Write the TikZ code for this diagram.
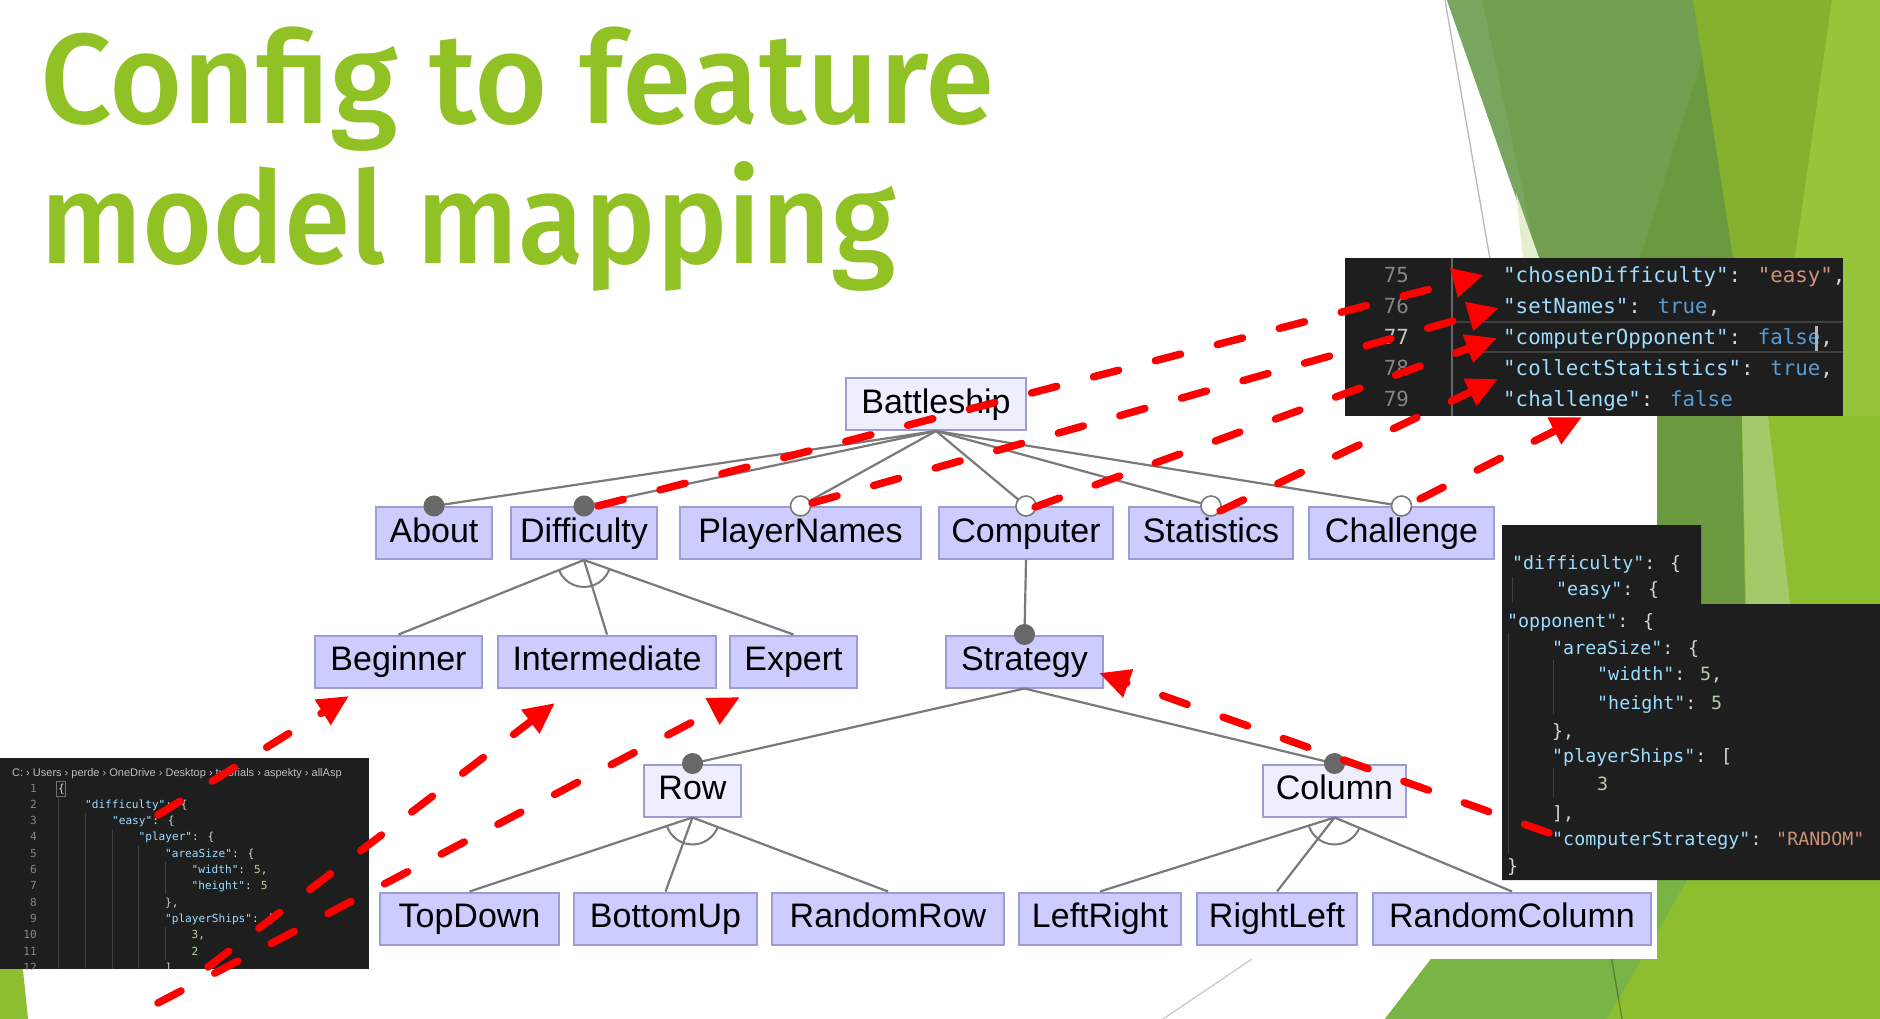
\documentclass[tikz,border=0pt]{standalone}
\usepackage{fontspec}
\usepackage{graphicx}
\usetikzlibrary{arrows.meta}
\newfontfamily\titlefont{Fira Sans}[UprightFont={* Medium}]
\newfontfamily\treefont{Liberation Sans}
\newfontfamily\codefont{DejaVu Sans Mono}
\newfontfamily\uifont{Liberation Sans}

\definecolor{titlegreen}{HTML}{90C226}
\definecolor{featfill}{HTML}{CCCCFF}
\definecolor{absfill}{HTML}{EEEEFF}
\definecolor{featedge}{HTML}{9C9CD6}
\definecolor{linkgray}{HTML}{7A7A7A}
\definecolor{dotgray}{HTML}{686868}
\definecolor{mapred}{HTML}{FF0000}
\definecolor{codebg}{HTML}{1E1E1E}
\definecolor{jkey}{HTML}{9CDCFE}
\definecolor{jstr}{HTML}{CE9178}
\definecolor{jbool}{HTML}{569CD6}
\definecolor{jnum}{HTML}{B5CEA8}
\definecolor{jpunct}{HTML}{D4D4D4}
\definecolor{lnum}{HTML}{858585}
\definecolor{lnumact}{HTML}{C6C6C6}
\definecolor{guide}{HTML}{404040}
\definecolor{gBright}{HTML}{8CBE2F}
\definecolor{gTop}{HTML}{84B22F}
\definecolor{gStrip}{HTML}{96C43B}
\definecolor{gDark}{HTML}{6A993F}
\definecolor{gOlive}{HTML}{729E50}
\definecolor{gOliveL}{HTML}{79A65E}
\definecolor{gPale}{HTML}{A3CA6A}
\definecolor{gPaler}{HTML}{E4EED0}
\definecolor{gMid}{HTML}{79B446}

\newcommand{\cfgkey}[1]{\textcolor{jkey}{"#1"}}
\newcommand{\cfgstr}[1]{\textcolor{jstr}{"#1"}}
\newcommand{\cfgbool}[1]{\textcolor{jbool}{#1}}
\newcommand{\cfgnum}[1]{\textcolor{jnum}{#1}}

\tikzset{
  feat/.style={draw=featedge, fill=featfill, line width=2pt, minimum height=52pt,
    inner sep=0pt, text height=25pt, text depth=7pt,
    font=\treefont\fontsize{34}{40}\selectfont},
  absfeat/.style={feat, fill=absfill},
  link/.style={draw=linkgray, line width=2.2pt},
  mand/.style={fill=dotgray, draw=dotgray, line width=1pt},
  opt/.style={fill=white, draw=linkgray, line width=1.6pt},
  altarc/.style={draw=linkgray, line width=2pt},
  codeA/.style={anchor=base west, inner sep=0pt, text=jpunct,
    font=\codefont\fontsize{20.8}{24}\selectfont},
  codeB/.style={anchor=base west, inner sep=0pt, text=jpunct,
    font=\codefont\fontsize{18.3}{22}\selectfont},
  codeC/.style={anchor=base west, inner sep=0pt, text=jpunct,
    font=\codefont\fontsize{11.1}{13}\selectfont},
  guideline/.style={draw=guide, line width=1pt},
  cfgarrow/.style={draw=mapred, line width=7.5pt, line cap=round,
    dash pattern=on 26pt off 38pt, -{Triangle[length=31pt,width=28pt]}},
  titletext/.style={anchor=base west, inner sep=0pt, text=titlegreen,
    font=\titlefont\fontsize{128}{150}\selectfont},
}

\begin{document}
\begin{tikzpicture}[x=1pt, y=-1pt]
\useasboundingbox (0,0) rectangle (1880,1019);
\fill[white] (0,0) rectangle (1880,1019);

% ---- slide background facets ----
\fill[gBright] (1693,0) -- (1880,0) -- (1880,1019) -- (1385,1019) -- (1431,959)
  -- (1520,600) -- (1540,258) -- cycle;
\fill[gTop] (1693,0) -- (1832,0) -- (1795,258) -- (1733,258) -- cycle;
\fill[gStrip] (1832,0) -- (1880,0) -- (1880,416) -- (1772,416) -- cycle;
\fill[gOlive] (1447,0) -- (1693,0) -- (1702,57) -- (1640,258) -- (1539,258) -- cycle;
\fill[gOliveL] (1447,0) -- (1482,0) -- (1537,258) -- cycle;
\fill[gPaler] (1516,193) -- (1539,258) -- (1523,258) -- cycle;
\fill[gDark] (1702,57) -- (1733,258) -- (1742,420) -- (1745,610) -- (1560,610)
  -- (1560,258) -- (1640,258) -- cycle;
\fill[gPale] (1742,416) -- (1768,416) -- (1790,604) -- (1746,604) -- cycle;
\fill[gMid] (1385,1019) -- (1607,1019) -- (1690,875) -- (1600,700) -- (1431,959) -- cycle;
\fill[gBright] (0,940) -- (20,940) -- (28,1019) -- (0,1019) -- cycle;

% thin guide lines of the slide design
\draw[black, opacity=0.28, line width=1.3pt] (1445,0) -- (1622,1019);
\draw[black, opacity=0.22, line width=1.2pt] (1252,959) -- (1163,1019);

% white panel behind the feature model
\fill[white] (300,300) rectangle (1657,959);

% ---- title ----
\node[titletext] (title1) at (40,123.5) {\scalebox{0.985}[1]{Config to feature}};
\node[titletext] (title2) at (40,264) {\scalebox{0.94}[1]{model mapping}};

% ---- feature model ----
\node[absfeat, minimum width=180pt] (battle) at (936,404) {Battleship};
\node[feat, minimum width=116pt] (about) at (434,533) {About};
\node[feat, minimum width=146pt] (diff) at (584,533) {Difficulty};
\node[feat, minimum width=241pt] (pnames) at (800.5,533) {PlayerNames};
\node[feat, minimum width=174pt] (comp) at (1026,533) {Computer};
\node[feat, minimum width=164pt] (stats) at (1211,533) {Statistics};
\node[feat, minimum width=185pt] (chall) at (1401.5,533) {Challenge};
\node[feat, minimum width=167pt] (begin) at (398.5,661.5) {Beginner};
\node[feat, minimum width=218pt] (inter) at (607,661.5) {Intermediate};
\node[feat, minimum width=127pt] (expert) at (793.5,661.5) {Expert};
\node[feat, minimum width=157pt] (strat) at (1024.5,661.5) {Strategy};
\node[absfeat, minimum width=97pt] (row) at (692.5,790.5) {Row};
\node[absfeat, minimum width=143pt] (col) at (1334.5,790.5) {Column};
\node[feat, minimum width=179pt] (topdown) at (469.5,918.5) {TopDown};
\node[feat, minimum width=183pt] (bottomup) at (665.5,918.5) {BottomUp};
\node[feat, minimum width=232pt] (randrow) at (888,918.5) {RandomRow};
\node[feat, minimum width=162pt] (leftright) at (1100,918.5) {LeftRight};
\node[feat, minimum width=160pt] (rightleft) at (1277,918.5) {RightLeft};
\node[feat, minimum width=278pt] (randcol) at (1512,918.5) {RandomColumn};

% root children
\foreach \c in {about,diff,pnames,comp,stats,chall}
  \draw[link] (battle.south) -- (\c.north);
% alternative groups
\foreach \p/\a/\b/\m in {diff/begin/expert/inter, row/topdown/randrow/bottomup,
                         col/leftright/randcol/rightleft} {
  \draw[link] (\p.south) -- (\a.north);
  \draw[link] (\p.south) -- (\m.north);
  \draw[link] (\p.south) -- (\b.north);
  \begin{scope}
    \clip (\p.south) -- (\a.north) -- (\b.north) -- cycle;
    \draw[altarc] (\p.south) circle (27);
  \end{scope}
}
% mandatory chain under Computer
\draw[link] (comp.south) -- (strat.north);
\draw[link] (strat.south) -- (row.north);
\draw[link] (strat.south) -- (col.north);

% feature decorations
\foreach \c in {about,diff,strat,row,col}
  \draw[mand] (\c.north) circle (10);
\foreach \c in {pnames,comp,stats,chall}
  \draw[opt] (\c.north) circle (10);

% ---- config excerpt: feature flags ----
\fill[codebg] (1345,258) rectangle (1843,416);
\draw[draw=black!75!white, line width=1.5pt] (1452,322) -- (1843,322)
  (1452,352) -- (1843,352);
\draw[draw=black!60!white, line width=1.5pt] (1452,258) -- (1452,416);
\node[codeA, anchor=base east, text=lnum] (n75) at (1409,282) {75};
\node[codeA, anchor=base east, text=lnum] (n76) at (1409,313) {76};
\node[codeA, anchor=base east, text=lnumact] (n77) at (1409,344) {77};
\node[codeA, anchor=base east, text=lnum] (n78) at (1409,375) {78};
\node[codeA, anchor=base east, text=lnum] (n79) at (1409,406) {79};
\node[codeA] (k75) at (1503,282) {\cfgkey{chosenDifficulty}: \cfgstr{easy},};
\node[codeA] (k76) at (1503,313) {\cfgkey{setNames}: \cfgbool{true},};
\node[codeA] (k77) at (1503,344) {\cfgkey{computerOpponent}: \cfgbool{false},};
\node[codeA] (k78) at (1503,375) {\cfgkey{collectStatistics}: \cfgbool{true},};
\node[codeA] (k79) at (1503,406) {\cfgkey{challenge}: \cfgbool{false}};
\fill[black!30!white] (1815,326) rectangle (1817.5,351);

% ---- config excerpt: opponent ----
\fill[codebg] (1502,525) -- (1701,525) -- (1701,604) -- (1880,604) -- (1880,880)
  -- (1502,880) -- cycle;
\draw[guideline] (1512,577) -- (1512,603);
\draw[guideline] (1508,633) -- (1508,853);
\draw[guideline] (1553,660) -- (1553,714);
\draw[guideline] (1553,768) -- (1553,797);
\node[codeB] (o1) at (1512,569) {\cfgkey{difficulty}: \{};
\node[codeB] (o2) at (1556,595) {\cfgkey{easy}: \{};
\node[codeB] (o3) at (1507,627) {\cfgkey{opponent}: \{};
\node[codeB] (o4) at (1552,654) {\cfgkey{areaSize}: \{};
\node[codeB] (o5) at (1597,680) {\cfgkey{width}: \cfgnum{5},};
\node[codeB] (o6) at (1597,709) {\cfgkey{height}: \cfgnum{5}};
\node[codeB] (o7) at (1552,737) {\},};
\node[codeB] (o8) at (1552,762) {\cfgkey{playerShips}: [};
\node[codeB] (o9) at (1597,790) {\cfgnum{3}};
\node[codeB] (o10) at (1552,819) {],};
\node[codeB] (o11) at (1552,845) {\cfgkey{computerStrategy}: \cfgstr{RANDOM}};
\node[codeB] (o12) at (1507,872) {\}};

% ---- config file: difficulty ----
\fill[codebg] (0,758) rectangle (369,969);
\begin{scope}
  \clip (0,758) rectangle (369,969);
  \node[anchor=base west, inner sep=0pt, text=black!25!white,
    font=\uifont\fontsize{11}{13}\selectfont] (crumbs) at (12,776)
    {C: › Users › perde › OneDrive › Desktop › tutorials › aspekty › allAsp};
  \foreach \i in {1,...,12}
    \node[codeC, anchor=base east, text=lnum] (ln\i) at (37,{792+(\i-1)*16.3}) {\i};
  \draw[guideline, line width=0.8pt] (58.5,797) -- (58.5,969)
    (85,813) -- (85,969) (112,829) -- (112,969) (138.5,846) -- (138.5,969)
    (165,862) -- (165,894) (165,927) -- (165,960);
  \draw[draw=black!55!white, line width=0.6pt] (56,781) rectangle (65,796);
  \node[codeC] (f1) at (58,792) {\{};
  \node[codeC] (f2) at (85,808.3) {\cfgkey{difficulty}: \{};
  \node[codeC] (f3) at (112,824.6) {\cfgkey{easy}: \{};
  \node[codeC] (f4) at (138.5,840.9) {\cfgkey{player}: \{};
  \node[codeC] (f5) at (165,857.2) {\cfgkey{areaSize}: \{};
  \node[codeC] (f6) at (191.5,873.5) {\cfgkey{width}: \cfgnum{5},};
  \node[codeC] (f7) at (191.5,889.8) {\cfgkey{height}: \cfgnum{5}};
  \node[codeC] (f8) at (165,906.1) {\},};
  \node[codeC] (f9) at (165,922.4) {\cfgkey{playerShips}: [};
  \node[codeC] (f10) at (191.5,938.7) {\cfgnum{3},};
  \node[codeC] (f11) at (191.5,955) {\cfgnum{2}};
  \node[codeC] (f12) at (165,971.3) {]};
\end{scope}

% ---- mapping arrows ----
\coordinate (sDiff) at (598,506);
\coordinate (sNames) at (812,503);
\coordinate (sComp) at (1035,507);
\coordinate (sStats) at (1220,511);
\coordinate (sChall) at (1420,499);
\coordinate (tChosen) at (1484,275);
\coordinate (tNames) at (1499,308);
\coordinate (tOpp) at (1497,338);
\coordinate (tStats) at (1498,379);
\coordinate (tChall) at (1582,417);
\coordinate (sBeg) at (158,815);
\coordinate (sInter) at (208,967);
\coordinate (sExp) at (158,1003);
\coordinate (tBeg) at (349,696);
\coordinate (tInter) at (555,703);
\coordinate (tExp) at (740,697);
\coordinate (sStrat) at (1549,833);
\coordinate (tStrat) at (1099,673);

\draw[cfgarrow] (sDiff) -- (tChosen);
\draw[cfgarrow] (sNames) -- (tNames);
\draw[cfgarrow] (sComp) -- (tOpp);
\draw[cfgarrow] (sStats) -- (tStats);
\draw[cfgarrow] (sChall) -- (tChall);
\draw[cfgarrow] (sBeg) -- (tBeg);
\draw[cfgarrow] (sInter) -- (tInter);
\draw[cfgarrow] (sExp) -- (tExp);
\draw[cfgarrow] (sStrat) -- (tStrat);
\end{tikzpicture}
\end{document}
